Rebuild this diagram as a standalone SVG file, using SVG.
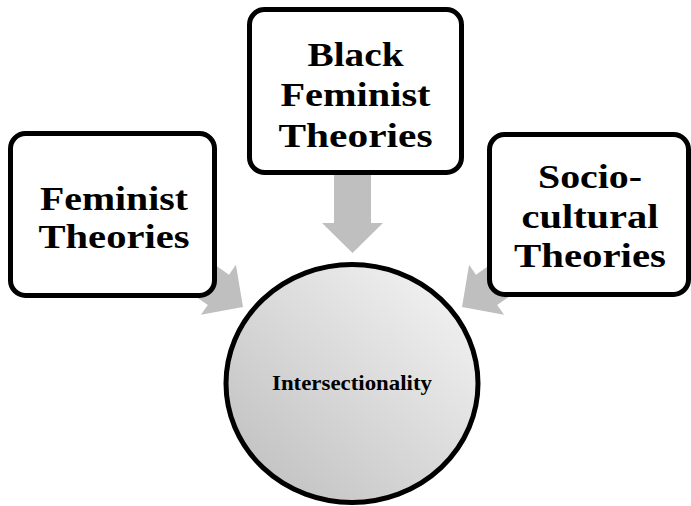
<svg xmlns="http://www.w3.org/2000/svg" width="691" height="506" viewBox="0 0 691 506">
  <defs>
    <linearGradient id="circleFill" x1="1" y1="0" x2="0" y2="1">
      <stop offset="0" stop-color="#f7f7f7"/>
      <stop offset="1" stop-color="#bcbcbc"/>
    </linearGradient>
  </defs>
  <style>
    .arrow { fill: #bfbfbf; stroke: none; }
    .box { fill: #ffffff; stroke: #000000; stroke-width: 5; }
    .label { font-family: "Liberation Serif", "Times New Roman", serif; font-weight: bold; font-size: 34px; fill: #000000; text-anchor: middle; }
    .small { font-size: 21px; }
  </style>
  <rect width="691" height="506" fill="#ffffff"/>
  <g id="connectors">
    <polygon class="arrow" transform="translate(352.5,253) rotate(90)" points="0,0 -30,-30.5 -30,-18.5 -85,-18.5 -85,18.5 -30,18.5 -30,30.5"/>
    <polygon class="arrow" transform="translate(243,307) rotate(35)" points="0,0 -30,-30.5 -30,-18.5 -90,-18.5 -90,18.5 -30,18.5 -30,30.5"/>
    <polygon class="arrow" transform="translate(462,307) rotate(145)" points="0,0 -30,-30.5 -30,-18.5 -90,-18.5 -90,18.5 -30,18.5 -30,30.5"/>
  </g>
  <g id="node-feminist">
    <rect class="box" x="10.5" y="133.5" width="204" height="162" rx="15" ry="15"/>
    <text class="label" x="114" y="209.5" textLength="148" lengthAdjust="spacingAndGlyphs">Feminist</text>
    <text class="label" x="114" y="248" textLength="151" lengthAdjust="spacingAndGlyphs">Theories</text>
  </g>
  <g id="node-black-feminist">
    <rect class="box" x="249.5" y="9.5" width="212" height="163" rx="15" ry="15"/>
    <text class="label" x="355.5" y="65.5" textLength="96" lengthAdjust="spacingAndGlyphs">Black</text>
    <text class="label" x="355.5" y="106" textLength="150" lengthAdjust="spacingAndGlyphs">Feminist</text>
    <text class="label" x="355.5" y="146.5" textLength="154" lengthAdjust="spacingAndGlyphs">Theories</text>
  </g>
  <g id="node-sociocultural">
    <rect class="box" x="489.5" y="134.5" width="199" height="160" rx="15" ry="15"/>
    <text class="label" x="590" y="188" textLength="104" lengthAdjust="spacingAndGlyphs">Socio-</text>
    <text class="label" x="590" y="228" textLength="137" lengthAdjust="spacingAndGlyphs">cultural</text>
    <text class="label" x="590" y="267" textLength="152" lengthAdjust="spacingAndGlyphs">Theories</text>
  </g>
  <g id="node-intersectionality">
    <ellipse cx="352" cy="383.5" rx="126" ry="119" fill="url(#circleFill)" stroke="#000000" stroke-width="5"/>
    <text class="label small" x="352" y="390" textLength="160" lengthAdjust="spacingAndGlyphs">Intersectionality</text>
  </g>
</svg>
